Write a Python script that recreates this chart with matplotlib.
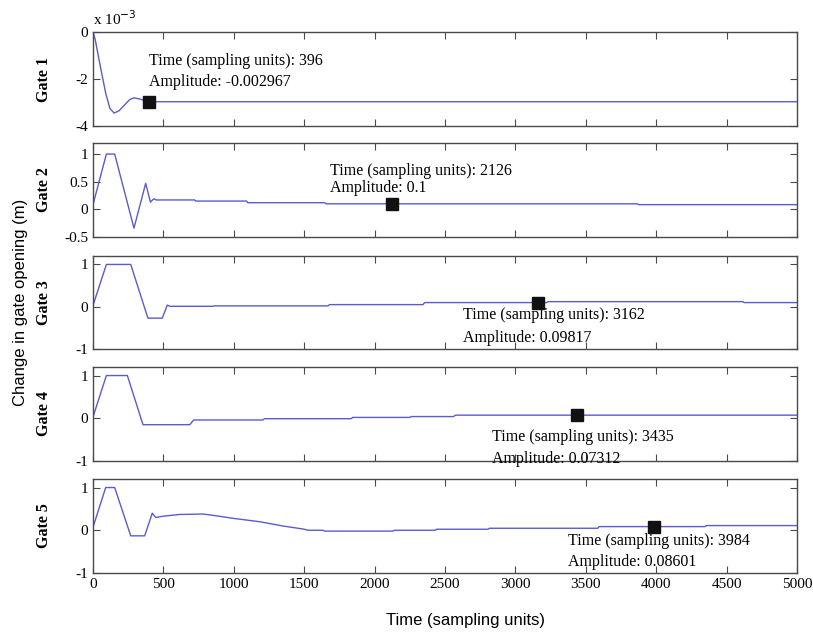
import matplotlib
matplotlib.use("Agg")
import matplotlib.pyplot as plt
from matplotlib.ticker import FuncFormatter

plt.rcParams["axes.unicode_minus"] = False

# gate responses (time in sampling units, change in opening in m)
gate1_t = [0, 15, 50, 90, 120, 150, 185, 225, 260, 290, 330, 396, 5000]
gate1_y = [0, -0.0003, -0.0014, -0.0026, -0.00325, -0.00345, -0.00335, -0.0031,
           -0.00288, -0.0028, -0.00285, -0.002967, -0.002967]

gate2_t = [0, 95, 154, 291, 374, 408, 431, 450, 722, 730, 1090, 1100, 1645, 1655, 3865, 3875, 5000]
gate2_y = [0.085, 1.0, 1.0, -0.34, 0.47, 0.13, 0.19, 0.17, 0.17, 0.15, 0.15, 0.12, 0.12, 0.10,
           0.10, 0.085, 0.085]

gate3_t = [0, 95, 268, 390, 492, 528, 545, 852, 860, 1669, 1680, 2344, 2355, 3222, 3232,
           4615, 4625, 5000]
gate3_y = [0.03, 1.0, 1.0, -0.27, -0.27, 0.04, 0.01, 0.01, 0.02, 0.02, 0.05, 0.05, 0.098,
           0.098, 0.12, 0.12, 0.098, 0.098]

gate4_t = [0, 95, 244, 355, 687, 715, 1207, 1217, 1834, 1844, 2250, 2260, 2560, 2575, 5000]
gate4_y = [0.03, 1.0, 1.0, -0.15, -0.15, -0.04, -0.04, -0.01, -0.01, 0.02, 0.02, 0.04, 0.04,
           0.073, 0.073]

gate5_t = [0, 90, 154, 268, 367, 421, 445, 500, 616, 781, 852, 994, 1184, 1349, 1491, 1530,
           1633, 1645, 2130, 2140, 2430, 2440, 2805, 2815, 3585, 3595, 4347, 4357, 5000]
gate5_y = [0.07, 1.0, 1.0, -0.13, -0.13, 0.40, 0.30, 0.33, 0.37, 0.38, 0.35, 0.28, 0.20, 0.10,
           0.03, 0.0, 0.0, -0.02, -0.02, 0.0, 0.0, 0.024, 0.024, 0.047, 0.047, 0.086, 0.086,
           0.11, 0.11]

# data cursor points
cursor_t = [396, 2126, 3162, 3435, 3984]
cursor_y = [-0.002967, 0.1, 0.09817, 0.07312, 0.08601]
cursor_amp = ["-0.002967", "0.1", "0.09817", "0.07312", "0.08601"]

gate_names = ["Gate 1", "Gate 2", "Gate 3", "Gate 4", "Gate 5"]
x_ticks = list(range(0, 5001, 500))
y_limits = [(-0.004, 0), (-0.5, 1.2), (-1, 1.2), (-1, 1.2), (-1, 1.2)]
y_ticks = [[-0.004, -0.002, 0], [-0.5, 0, 0.5, 1], [-1, 0, 1], [-1, 0, 1], [-1, 0, 1]]

series_t = [gate1_t, gate2_t, gate3_t, gate4_t, gate5_t]
series_y = [gate1_y, gate2_y, gate3_y, gate4_y, gate5_y]

W, H = 813, 633
panels_px = [(32, 126), (143, 237), (256, 349), (367, 461), (479, 573)]
left_px, right_px = 93, 797
text_offsets = [(0, 30), (-62, 24), (-75, -24), (-85, -33), (-86, -25)]
text_spacing = [1.45, 1.1, 1.55, 1.5, 1.45]

serif = "Liberation Serif"
sans = "Liberation Sans"
line_color = "#5b5bd0"
frame_color = "#4a4a4a"

fig = plt.figure(figsize=(W / 100, H / 100), dpi=100)
fig.patch.set_facecolor("white")

for i in range(5):
    top, bot = panels_px[i]
    ax = fig.add_axes([left_px / W, 1 - bot / H, (right_px - left_px) / W, (bot - top) / H])
    ax.plot(series_t[i], series_y[i], color=line_color, lw=1.0)
    ax.plot(cursor_t[i], cursor_y[i], "s", color="#111111", ms=8.5, zorder=5)
    ax.annotate("Time (sampling units): %d\nAmplitude: %s" % (cursor_t[i], cursor_amp[i]),
                xy=(cursor_t[i], cursor_y[i]), xytext=text_offsets[i],
                textcoords="offset pixels", ha="left", va="center",
                family=serif, fontsize=11.5, linespacing=text_spacing[i])

    ax.set_xlim(0, 5000)
    ax.set_ylim(*y_limits[i])
    ax.set_xticks(x_ticks)
    ax.set_yticks(y_ticks[i])
    ax.tick_params(direction="in", top=True, right=True, length=5, width=0.8,
                   colors=frame_color, labelcolor="black", labelsize=11)
    if i == 0:
        ax.yaxis.set_major_formatter(FuncFormatter(lambda v, p: "%d" % round(v * 1000)))
        ax.text(0, 1.04, "x 10$^{-3}$", transform=ax.transAxes, family=serif,
                fontsize=11, ha="left", va="bottom")
    else:
        ax.yaxis.set_major_formatter(FuncFormatter(lambda v, p: "%g" % v))
    for lab in ax.get_xticklabels() + ax.get_yticklabels():
        lab.set_family(serif)
    if i < 4:
        ax.tick_params(labelbottom=False)
    for s in ax.spines.values():
        s.set_color(frame_color)
        s.set_linewidth(1.0)

    ax.set_ylabel(gate_names[i], family=serif, fontweight="bold", fontsize=11.5, va="center")
    ax.yaxis.set_label_coords(-0.07, 0.5)

fig.text(0.025, 0.523, "Change in gate opening (m)", rotation=90, family=sans,
         fontsize=12, ha="center", va="center")
fig.text(0.573, 0.019, "Time (sampling units)", family=sans, fontsize=12,
         ha="center", va="center")

fig.savefig("out.png", dpi=100, facecolor="white")
